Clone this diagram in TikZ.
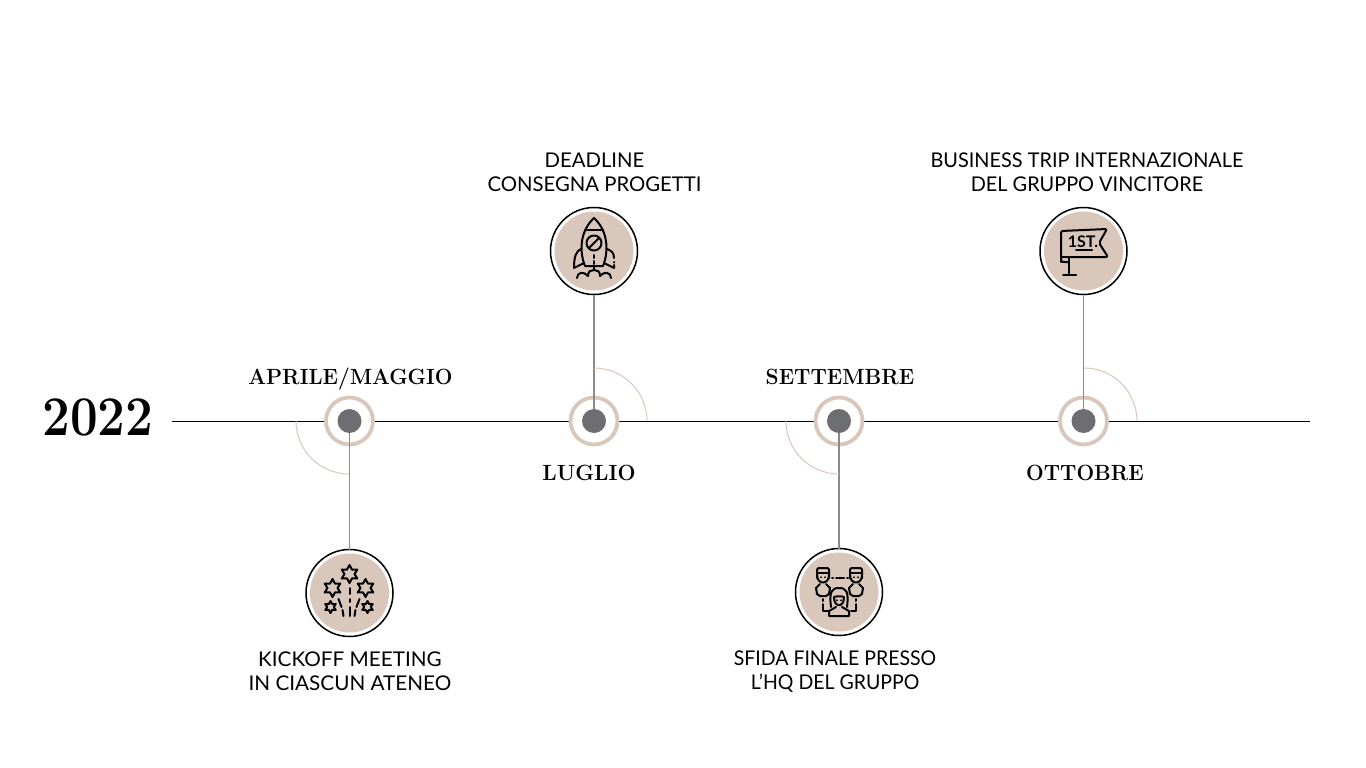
\documentclass[tikz,border=0pt]{standalone}
\usepackage{fontspec}
\setsansfont{Lato}
\definecolor{beige}{HTML}{D9C7BC}
\definecolor{dotgray}{HTML}{6D6E71}
\definecolor{stemgray}{HTML}{8A8A8A}
\tikzset{
  x=1pt,y=1pt,
  every node/.style={inner sep=0pt,outer sep=0pt},
  ringnode/.style={circle,draw=beige,line width=3.8pt,fill=white,minimum size=47pt},
  dotnode/.style={circle,fill=dotgray,minimum size=24pt},
  iconnode/.style={circle,draw=black,line width=1.5pt,fill=white,minimum size=87pt},
  discnode/.style={circle,fill=beige,minimum size=79pt},
  stem/.style={draw=stemgray,line width=1.5pt},
  axisline/.style={draw=black,line width=0.9pt},
  quarter/.style={draw=beige,line width=1pt},
  monthlabel/.style={anchor=base,xscale=0.95,font=\rmfamily\bfseries\fontsize{22}{24}\selectfont},
  eventlabel/.style={font=\sffamily\fontsize{20.3}{24}\selectfont,align=center},
  ico/.style={draw=black,line width=2pt,line join=round,line cap=round},
  icoscope/.style={x=1pt,y=-1pt},
}
\newcommand\sparkstar[3]{\draw[ico] plot[samples at={0,30,...,330},variable=\a]
  ({#1+(#3)*(0.78+0.22*cos(6*\a))*sin(\a)},{#2-(#3)*(0.78+0.22*cos(6*\a))*cos(\a)}) -- cycle;}
\begin{document}
\begin{tikzpicture}
\useasboundingbox[fill=white] (0,0) rectangle (1366,-768);
% axis
\coordinate (axisL) at (172,-421);
\coordinate (axisR) at (1310,-421);
\draw[axisline] (axisL) -- (axisR);
% rings and dots
\node[ringnode] (r1) at (349.5,-421) {};
\node[ringnode] (r2) at (594,-421) {};
\node[ringnode] (r3) at (839,-421) {};
\node[ringnode] (r4) at (1083.5,-421) {};
\node[dotnode] (d1) at (r1) {};
\node[dotnode] (d2) at (r2) {};
\node[dotnode] (d3) at (r3) {};
\node[dotnode] (d4) at (r4) {};
% icon circles
\node[iconnode] (c1) at (349.5,-593) {};
\node[iconnode] (c2) at (594,-251) {};
\node[iconnode] (c3) at (839,-592) {};
\node[iconnode] (c4) at (1083.5,-251) {};
\node[discnode] (f1) at (c1) {};
\node[discnode] (f2) at (c2) {};
\node[discnode] (f3) at (c3) {};
\node[discnode] (f4) at (c4) {};
% stems
\draw[stem] (d1) -- (c1);
\draw[stem] (d2) -- (c2);
\draw[stem] (d3) -- (c3);
\draw[stem] (d4) -- (c4);
% quarter arcs
\draw[quarter] (296,-421) arc[start angle=180,end angle=270,radius=53pt];
\draw[quarter] (594,-368) arc[start angle=90,end angle=0,radius=53pt];
\draw[quarter] (786,-421) arc[start angle=180,end angle=270,radius=53pt];
\draw[quarter] (1084,-368) arc[start angle=90,end angle=0,radius=53pt];
% labels
\node[xscale=0.88,font=\rmfamily\bfseries\fontsize{56}{56}\selectfont] (year) at (98,-417) {2022};
\node[monthlabel] (m1) at (350.5,-384) {APRILE/MAGGIO};
\node[monthlabel,xscale=1.02] (m2) at (589,-480) {LUGLIO};
\node[monthlabel] (m3) at (840,-384) {SETTEMBRE};
\node[monthlabel] (m4) at (1085,-480) {OTTOBRE};
\node[eventlabel,xscale=1.02] (e1) at (350,-671.5) {KICKOFF MEETING\\IN CIASCUN ATENEO};
\node[eventlabel] (e2) at (594.5,-172.5) {DEADLINE\\CONSEGNA PROGETTI};
\node[eventlabel,xscale=0.96] (e3) at (835,-672) {SFIDA FINALE PRESSO\\L’HQ DEL GRUPPO};
\node[eventlabel,xscale=0.98] (e4) at (1087,-172.5) {BUSINESS TRIP INTERNAZIONALE\\DEL GRUPPO VINCITORE};
% fireworks icon
\begin{scope}[shift={(349.5,-593)},icoscope]
  \sparkstar{0}{-19}{9}
  \sparkstar{-17}{-5}{9}
  \sparkstar{16}{-5}{9}
  \sparkstar{-19}{14}{6}
  \sparkstar{18}{14}{6}
  \draw[ico] (0,-5) -- (0,1) (0,6) -- (0,9) (0,14) -- (0,23);
  \draw[ico] (-11,6) -- (-8,14) (-7,17) -- (-6,23);
  \draw[ico] (10,6) -- (7,14) (6,17) -- (5,23);
\end{scope}
% rocket icon
\begin{scope}[shift={(594,-251)},icoscope]
  \draw[ico] (-9,15) .. controls (-15,0) and (-14,-20) .. (0,-33)
             .. controls (14,-20) and (15,0) .. (9,15) -- cycle;
  \draw[ico] (-9,-21) -- (9,-21);
  \draw[ico] (0,-8) circle[radius=7.5pt];
  \draw[ico] (-5,-3) -- (5,-13);
  \draw[ico] (0,4) -- (0,7) (0,10) -- (0,13) (0,16) -- (0,19);
  \draw[ico] (-13,-2) .. controls (-18,0) and (-20,6) .. (-20,17) -- (-10,12);
  \draw[ico] (13,-2) .. controls (18,0) and (20,2) .. (20,7) (20,11) -- (20,11.5) (20,14) -- (20,17) -- (10,12);
  \draw[ico] (-17,27) .. controls (-17,21) and (-10,20) .. (-6,25)
             .. controls (-6,20) and (-3,19) .. (0,19)
             .. controls (3,19) and (6,20) .. (6,25)
             .. controls (10,20) and (17,21) .. (17,27);
\end{scope}
% people icon
\begin{scope}[shift={(839,-592)},icoscope]
  \foreach \hx in {-16,17}{
    \draw[ico,rounded corners=2pt] (\hx-6,-14) -- (\hx-6,-24) -- (\hx+6,-24) -- (\hx+6,-14);
    \draw[ico] (\hx-6,-17) .. controls (\hx-6,-7) and (\hx+6,-7) .. (\hx+6,-17);
    \draw[ico] (\hx-6,-19) -- (\hx+6,-19);
    \draw[ico] (\hx-3,-8) -- (\hx-7,-4) -- (\hx-6,2) -- (\hx-3,4) -- (\hx+3,4) -- (\hx+6,2) -- (\hx+7,-4) -- (\hx+3,-8);
    \draw[ico,line width=1.2pt] (\hx-2,-15) -- (\hx-2,-14.5) (\hx+2,-15) -- (\hx+2,-14.5);
  }
  \draw[ico] (-7,-14) -- (-6,-14) (-3,-14) -- (5,-14) (8,-14) -- (9,-14);
  \draw[ico] (-16,7) -- (-16,9) (-16,12) -- (-16,19) -- (-11,19);
  \draw[ico] (17,7) -- (17,9) (17,12) -- (17,19) -- (12,19);
  \draw[ico] (-8,15) .. controls (-10,-1) and (-7,-4) .. (0,-4)
             .. controls (7,-4) and (10,-1) .. (8,15);
  \draw[ico] (-5,5) .. controls (-5,16) and (5,16) .. (5,5) .. controls (2,4) and (-2,4) .. (-5,5) -- cycle;
  \draw[ico] (-3,15) -- (-10,19) -- (-10,24) -- (10,24) -- (10,19) -- (3,15);
  \draw[ico,line width=1.2pt] (-2,8) -- (-2,8.5) (2,8) -- (2,8.5);
\end{scope}
% flag icon
\begin{scope}[shift={(1083,-251)},icoscope]
  \draw[ico,rounded corners=2pt] (-22,11) -- (-22,-20) -- (24,-22) -- (16,-8) -- (25,6) -- (-17,6);
  \draw[ico] (-22,6) .. controls (-22,11) and (-22,11) .. (-18,11) -- (-14,11);
  \draw[ico] (-22,6) -- (-14,6);
  \draw[ico] (-14,6) -- (-14,24);
  \draw[ico] (-20,24) -- (-7,24);
  \draw[ico] (-7,-1.5) -- (9,-1.5);
  \node[font=\sffamily\bfseries\fontsize{16}{16}\selectfont] (firstlabel) at (0,-9) {1ST.};
\end{scope}
\end{tikzpicture}
\end{document}
